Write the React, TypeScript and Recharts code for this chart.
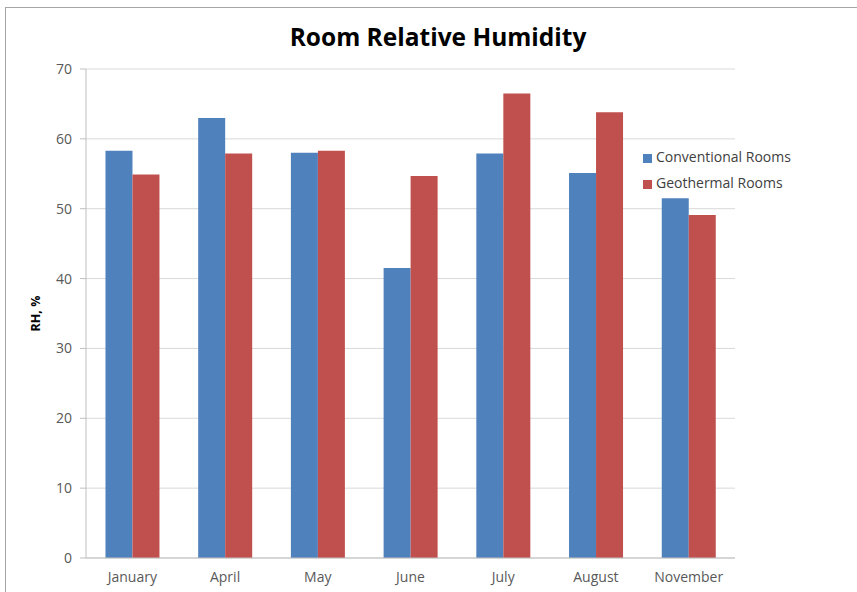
import { Bar, BarChart, CartesianGrid, Legend, XAxis, YAxis } from "recharts";

const months = ["January", "April", "May", "June", "July", "August", "November"];
const conventional = [58.3, 63.0, 58.0, 41.5, 57.9, 55.1, 51.5];
const geothermal = [54.9, 57.9, 58.3, 54.7, 66.5, 63.8, 49.1];
const yTicks = [0, 10, 20, 30, 40, 50, 60, 70];

const data = months.map((month, i) => ({
  month,
  conventional: conventional[i],
  geothermal: geothermal[i],
}));

const FONT = '"Open Sans", sans-serif';
const TEXT = "#595959";
const AXIS = "#bfbfbf";
const GRID = "#d9d9d9";

export default function App() {
  return (
    <div style={{ position: "absolute", left: 0, top: 0, width: 857, height: 592, background: "#fff", fontFamily: FONT }}>
      {/* outer chart frame, mostly off the right/bottom edge */}
      <div style={{ position: "absolute", left: 5, top: 7, width: 870, height: 600, border: "1px solid #a6a6a6" }} />
      <div
        style={{
          position: "absolute",
          left: 0,
          top: 20,
          width: 876,
          textAlign: "center",
          fontSize: 24.5,
          fontWeight: 700,
          color: "#000",
        }}
      >
        Room Relative Humidity
      </div>
      <BarChart
        width={857}
        height={592}
        data={data}
        margin={{ top: 69, right: 122, bottom: 0, left: 30 }}
        barCategoryGap="21%"
        barGap={0}
        style={{ position: "absolute", left: 0, top: 0 }}
      >
        <CartesianGrid vertical={false} stroke={GRID} />
        <XAxis
          dataKey="month"
          height={34}
          tickLine={false}
          axisLine={{ stroke: AXIS }}
          tick={{ fontSize: 14, fill: TEXT, fontFamily: FONT }}
          tickMargin={8}
        />
        <YAxis
          width={56}
          domain={[0, 70]}
          ticks={yTicks}
          interval={0}
          tickSize={6}
          tickMargin={8}
          tickLine={{ stroke: AXIS }}
          axisLine={{ stroke: AXIS }}
          tick={{ fontSize: 14, fill: TEXT, fontFamily: FONT }}
          label={{
            value: "RH, %",
            angle: -90,
            position: "insideLeft",
            offset: 6,
            style: { fontSize: 12.5, fontWeight: 700, fill: "#000", fontFamily: FONT, textAnchor: "middle" },
          }}
        />
        {/* centered/middle so Recharts doesn't shrink the plot for it; moved by wrapperStyle */}
        <Legend
          layout="vertical"
          align="center"
          verticalAlign="middle"
          iconType="square"
          iconSize={9}
          wrapperStyle={{ top: 144, left: 643, width: 210, fontSize: 14, fontFamily: FONT, lineHeight: "26px", textAlign: "left" }}
          formatter={(v) => <span style={{ color: "#404040" }}>{v}</span>}
        />
        <Bar dataKey="conventional" name="Conventional Rooms" fill="#4f81bd" isAnimationActive={false} />
        <Bar dataKey="geothermal" name="Geothermal Rooms" fill="#c0504d" isAnimationActive={false} />
      </BarChart>
    </div>
  );
}
